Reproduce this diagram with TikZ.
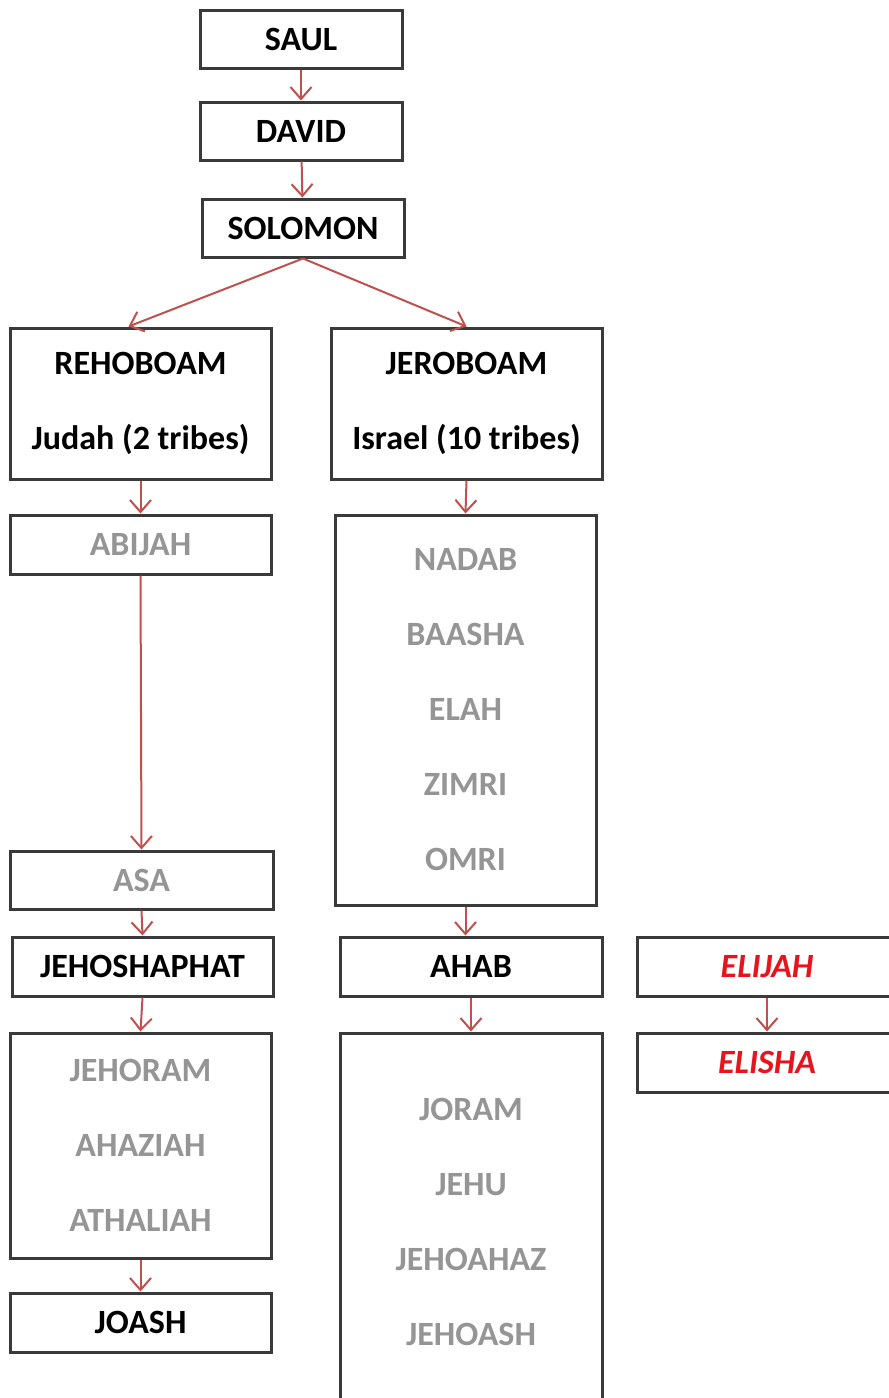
\documentclass[tikz,border=0pt]{standalone}
\usepackage{fontspec}
\setmainfont{Carlito}
\usetikzlibrary{arrows.meta}
\definecolor{linkred}{HTML}{C0504D}
\definecolor{boxline}{HTML}{3A3A3A}
\definecolor{faded}{HTML}{959595}
\definecolor{prophet}{HTML}{E8141C}

\begin{document}
\begin{tikzpicture}[x=1pt,y=-1pt,
	king/.style={draw=boxline, line width=3pt, fill=white, inner sep=0pt, align=center,
		font=\fontsize{34}{75}\selectfont\bfseries},
	link/.style={draw=linkred, line width=2pt, -{Straight Barb[length=12pt,width=21pt]}}]
	\useasboundingbox (0,0) rectangle (889,1398);
	% united kingdom
	\node[king, minimum width=202pt, minimum height=58pt] (saul) at (301,39) {SAUL};
	\node[king, minimum width=202pt, minimum height=58pt] (david) at (301,131) {DAVID};
	\node[king, minimum width=202pt, minimum height=58pt] (solomon) at (303,228) {SOLOMON};
	\node[king, minimum width=261pt, minimum height=151pt] (rehoboam) at (140.5,403.5) {REHOBOAM\\Judah (2 tribes)};
	\node[king, minimum width=271pt, minimum height=151pt] (jeroboam) at (466.5,403.5) {JEROBOAM\\Israel (10 tribes)};
	% Judah
	\node[king, text=faded, minimum width=261pt, minimum height=59pt] (abijah) at (140.5,544.5) {ABIJAH};
	\node[king, text=faded, minimum width=263pt, minimum height=58pt] (asa) at (141.5,880) {ASA};
	\node[king, minimum width=261pt, minimum height=59pt] (jehoshaphat) at (142.5,966.5) {JEHOSHAPHAT};
	\node[king, text=faded, minimum width=261pt, minimum height=225pt] (jehoram) at (140.5,1145.5) {JEHORAM\\AHAZIAH\\ATHALIAH};
	\node[king, minimum width=261pt, minimum height=59pt] (joash) at (140.5,1322.5) {JOASH};
	% Israel
	\node[king, text=faded, minimum width=261pt, minimum height=390pt] (nadab) at (465.5,710) {NADAB\\BAASHA\\ELAH\\ZIMRI\\OMRI};
	\node[king, minimum width=262pt, minimum height=59pt] (ahab) at (471,966.5) {AHAB};
	\node[king, text=faded, minimum width=262pt, minimum height=377pt] (joram) at (471,1221.5) {JORAM\\JEHU\\JEHOAHAZ\\JEHOASH};
	% prophets
	\node[king, text=prophet, font=\fontsize{34}{75}\selectfont\bfseries\itshape, minimum width=260pt, minimum height=59pt] (elijah) at (767,966.5) {ELIJAH};
	\node[king, text=prophet, font=\fontsize{34}{75}\selectfont\bfseries\itshape, minimum width=260pt, minimum height=59pt] (elisha) at (767,1062.5) {ELISHA};

	\draw[link] (saul) -- (david);
	\draw[link] (david) -- (solomon);
	\draw[link] (solomon.south) -- ([xshift=-12pt]rehoboam.north);
	\draw[link] (solomon.south) -- (jeroboam.north);
	\draw[link] (rehoboam.south) -- (abijah.north);
	\draw[link] (abijah.south) -- (asa.north);
	\draw[link] (asa.south) -- (jehoshaphat.north);
	\draw[link] (jehoshaphat.south) -- (jehoram.north);
	\draw[link] (jehoram.south) -- (joash.north);
	\draw[link] (jeroboam.south) -- (nadab.north);
	\draw[link] (nadab.south) -- (nadab.south |- ahab.north);
	\draw[link] (ahab.south) -- (joram.north);
	\draw[link] (elijah) -- (elisha);
\end{tikzpicture}
\end{document}
